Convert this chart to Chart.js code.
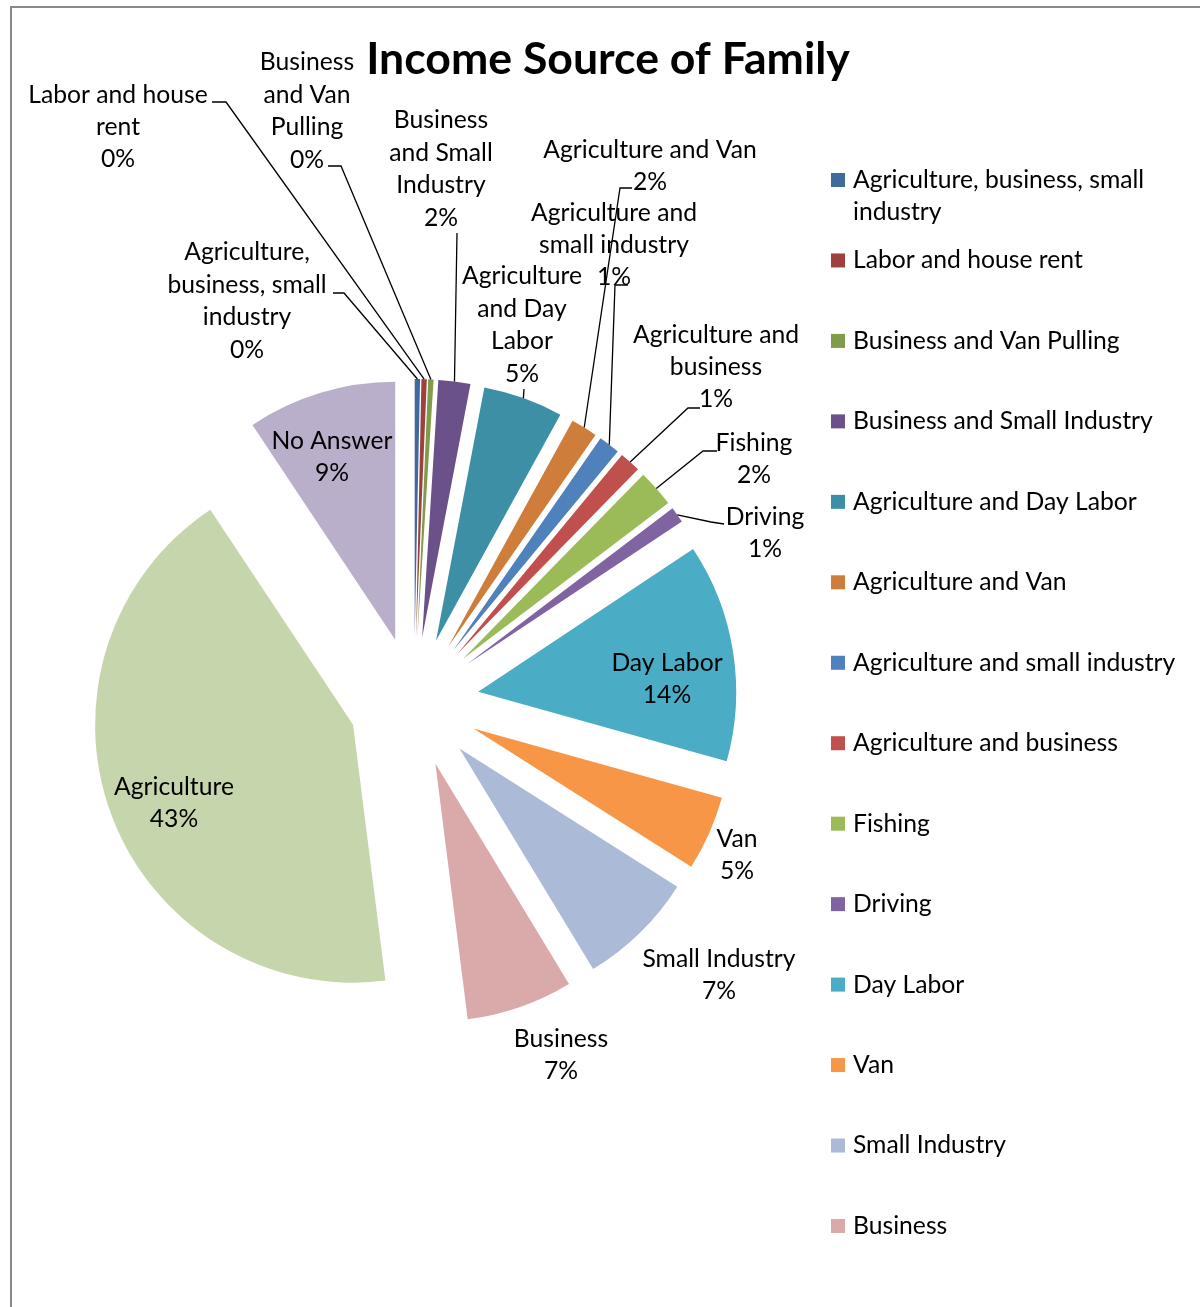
<!DOCTYPE html>
<html>
<head>
<meta charset="utf-8">
<title>Income Source of Family</title>
<script src="https://cdn.jsdelivr.net/npm/chart.js@4.4.1/dist/chart.umd.min.js"></script>
<style>
  html, body { margin: 0; padding: 0; background: #ffffff; }
  #wrap { position: relative; width: 1200px; height: 1307px; }
  canvas { display: block; }
</style>
</head>
<body>
<div id="wrap"><canvas id="chart" width="1200" height="1307"></canvas></div>
<script>
// ---- data: households by main income source ----
const chartTitle = "Income Source of Family";
const categories = [
  "Agriculture, business, small industry",
  "Labor and house rent",
  "Business and Van Pulling",
  "Business and Small Industry",
  "Agriculture and Day Labor",
  "Agriculture and Van",
  "Agriculture and small industry",
  "Agriculture and business",
  "Fishing",
  "Driving",
  "Day Labor",
  "Van",
  "Small Industry",
  "Business",
  "Agriculture",
  "No Answer"
];
const households = [1, 1, 1, 6, 15, 5, 4, 4, 7, 3, 41, 14, 22, 20, 128, 28];
const sliceColors = [
  "#3F6A9E", "#9E413E", "#809B4A", "#6A5189", "#3D8FA6", "#CE7D3A",
  "#4F81BD", "#C0504D", "#9BBB59", "#8064A2", "#4BACC6", "#F79646",
  "#AABAD7", "#D9AAA9", "#C6D6AC", "#B9AFCB"
];

// ---- styling / layout ----
const FONT = "Lato";
const LABEL_SIZE = 24.7;
const TITLE_SIZE = 44.6;
const LINE_H = 32.4;
const EXPLODE = 65;           // distance each slice is pulled out from the centre
const PIE_RADIUS = 258;

// word counts per text line of each slice label, label centre, leader polyline start
const labelPlacement = [
  { words: [1, 2, 1], x: 247, y: 301, leader: [[333, 293], [344, 293]] },
  { words: [3, 1],    x: 118, y: 127, leader: [[212, 102], [226, 102]] },
  { words: [1, 2, 1], x: 307, y: 111, leader: [[328, 166], [341, 166]] },
  { words: [1, 2, 1], x: 441, y: 169, leader: [[457, 233]] },
  { words: [1, 2, 1], x: 522, y: 325, leader: [[524, 389]] },
  { words: [3],       x: 650, y: 166, leader: [[632, 188], [620, 188]] },
  { words: [2, 2],    x: 614, y: 245, leader: [[628, 285], [615, 285]] },
  { words: [2, 1],    x: 716, y: 367, leader: [[700, 408], [688, 408]] },
  { words: [1],       x: 754, y: 459, leader: [[717, 451], [703, 451]] },
  { words: [1],       x: 765, y: 533, leader: [[724, 524], [711, 522]] },
  { words: [2],       x: 667, y: 679 },
  { words: [1],       x: 737, y: 855 },
  { words: [2],       x: 719, y: 975 },
  { words: [1],       x: 561, y: 1055 },
  { words: [1],       x: 174, y: 803 },
  { words: [2],       x: 332, y: 457 }
];
const legendWords = [[3, 1]];  // first legend entry wraps after three words
const legendBox = { left: 831, firstY: 180, step: 80.46, size: 14, textLeft: 853 };

function splitWords(text, counts) {
  const w = text.split(" ");
  if (!counts) return [text];
  const out = [];
  let k = 0;
  counts.forEach(n => { out.push(w.slice(k, k + n).join(" ")); k += n; });
  if (k < w.length) out[out.length - 1] += " " + w.slice(k).join(" ");
  return out;
}

// frame and title
const framePlugin = {
  id: "frameAndTitle",
  beforeDraw(chart) {
    const ctx = chart.ctx;
    ctx.save();
    ctx.fillStyle = "#ffffff";
    ctx.fillRect(0, 0, chart.width, chart.height);
    ctx.strokeStyle = "#898989";
    ctx.lineWidth = 2;
    ctx.beginPath();
    ctx.moveTo(11, chart.height);
    ctx.lineTo(11, 7);
    ctx.lineTo(chart.width, 7);
    ctx.stroke();
    ctx.restore();
  },
  afterDraw(chart) {
    const ctx = chart.ctx;
    ctx.save();
    ctx.font = `bold ${TITLE_SIZE}px ${FONT}`;
    ctx.fillStyle = "#000";
    ctx.textAlign = "center";
    ctx.textBaseline = "middle";
    ctx.fillText(chartTitle, 608, 60);
    ctx.restore();
  }
};

// pulls every slice out along its bisector and draws it with the arc element
const explodePlugin = {
  id: "explodeSlices",
  beforeDatasetDraw(chart, args) {
    const ctx = chart.ctx;
    args.meta.data.forEach(arc => {
      const mid = (arc.startAngle + arc.endAngle) / 2;
      ctx.save();
      ctx.translate(Math.cos(mid) * EXPLODE, Math.sin(mid) * EXPLODE);
      arc.draw(ctx, chart.chartArea);
      ctx.restore();
    });
    return false;
  }
};

// category + percentage labels with leader lines
const labelPlugin = {
  id: "sliceLabels",
  afterDatasetsDraw(chart) {
    const ctx = chart.ctx;
    const meta = chart.getDatasetMeta(0);
    const values = chart.data.datasets[0].data;
    const total = values.reduce((a, b) => a + b, 0);
    ctx.save();
    ctx.font = `${LABEL_SIZE}px ${FONT}`;
    ctx.fillStyle = "#000";
    ctx.strokeStyle = "#000";
    ctx.lineWidth = 1.3;
    ctx.textAlign = "center";
    ctx.textBaseline = "middle";
    meta.data.forEach((arc, i) => {
      const place = labelPlacement[i];
      const mid = (arc.startAngle + arc.endAngle) / 2;
      const cx = arc.x + Math.cos(mid) * EXPLODE;
      const cy = arc.y + Math.sin(mid) * EXPLODE;
      const ex = cx + Math.cos(mid) * arc.outerRadius;
      const ey = cy + Math.sin(mid) * arc.outerRadius;
      if (place.leader) {
        ctx.beginPath();
        ctx.moveTo(place.leader[0][0], place.leader[0][1]);
        for (let k = 1; k < place.leader.length; k++) ctx.lineTo(place.leader[k][0], place.leader[k][1]);
        ctx.lineTo(ex, ey);
        ctx.stroke();
      }
      const pct = Math.round(values[i] / total * 100) + "%";
      const lines = splitWords(chart.data.labels[i], place.words).concat(pct);
      const y0 = place.y - (lines.length - 1) * LINE_H / 2;
      lines.forEach((t, k) => ctx.fillText(t, place.x, y0 + k * LINE_H));
    });
    ctx.restore();
  }
};

// legend column on the right; entries that do not fit are left out
const legendPlugin = {
  id: "sideLegend",
  afterDraw(chart) {
    const ctx = chart.ctx;
    const colors = chart.data.datasets[0].backgroundColor;
    ctx.save();
    ctx.font = `${LABEL_SIZE}px ${FONT}`;
    ctx.textAlign = "left";
    ctx.textBaseline = "middle";
    chart.data.labels.forEach((name, i) => {
      const y = legendBox.firstY + i * legendBox.step;
      const lines = splitWords(name, legendWords[i]);
      if (y + (lines.length - 1) * LINE_H + LINE_H / 2 > chart.height) return;
      ctx.fillStyle = colors[i];
      ctx.fillRect(legendBox.left, y - legendBox.size / 2, legendBox.size, legendBox.size);
      ctx.fillStyle = "#000";
      lines.forEach((t, k) => ctx.fillText(t, legendBox.textLeft, y + k * LINE_H));
    });
    ctx.restore();
  }
};

new Chart(document.getElementById("chart"), {
  type: "pie",
  data: {
    labels: categories,
    datasets: [{
      data: households,
      backgroundColor: sliceColors,
      borderWidth: 0,
      radius: PIE_RADIUS
    }]
  },
  options: {
    responsive: false,
    animation: false,
    radius: PIE_RADIUS,
    layout: { padding: { left: 0, right: 372, top: 97, bottom: 0 } },
    plugins: {
      legend: { display: false },
      title: { display: false },
      tooltip: { enabled: false }
    },
    events: []
  },
  plugins: [framePlugin, explodePlugin, labelPlugin, legendPlugin]
});
</script>
</body>
</html>
